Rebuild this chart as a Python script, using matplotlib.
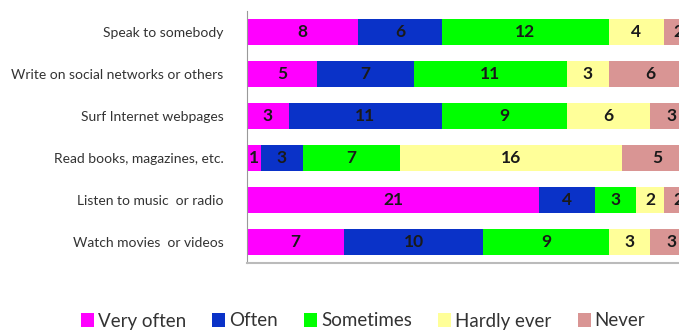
import matplotlib.pyplot as plt
import numpy as np

plt.rcParams['font.family'] = ['Lato', 'DejaVu Sans']

activities = ['Speak to somebody', 'Write on social networks or others',
              'Surf Internet webpages', 'Read books, magazines, etc.',
              'Listen to music  or radio', 'Watch movies  or videos']
levels = ['Very often', 'Often', 'Sometimes', 'Hardly ever', 'Never']
very_often = [8, 5, 3, 1, 21, 7]
often = [6, 7, 11, 3, 4, 10]
sometimes = [12, 11, 9, 7, 3, 9]
hardly_ever = [4, 3, 6, 16, 2, 3]
never = [2, 6, 3, 5, 2, 3]
colors = ['#FF00FF', '#0A32C8', '#00FF00', '#FFFF99', '#D99594']

series = [very_often, often, sometimes, hardly_ever, never]

fig = plt.figure(figsize=(6.79, 3.31), dpi=100)
# axes run past the right edge, the last segments get clipped
ax = fig.add_axes([247/679, (331-263)/331, 445/679, 252/331])

y = np.arange(len(activities))
left = np.zeros(len(activities))
for name, vals, c in zip(levels, series, colors):
    vals = np.array(vals)
    ax.barh(y, vals, left=left, height=0.62, color=c, label=name)
    for yi, l, v in zip(y, left, vals):
        ax.text(l + v/2, yi, str(v), ha='center', va='center',
                fontsize=12.5, fontweight='bold', color='#1a1a1a')
    left += vals

ax.set_xlim(0, 32)
ax.set_ylim(len(activities) - 0.5, -0.5)
ax.set_yticks(y)
ax.set_yticklabels(activities, fontsize=10, color='#333333')
ax.tick_params(axis='y', length=0, pad=17)
ax.set_xticks([])
for s in ['top', 'right']:
    ax.spines[s].set_visible(False)
ax.spines['left'].set_color('#999999')
ax.spines['bottom'].set_color('#bbbbbb')
ax.spines['bottom'].set_linewidth(1.5)

fig.legend(loc='center', bbox_to_anchor=(363/679, 1 - 321/331), ncol=5,
           frameon=False, fontsize=13.5, handlelength=0.7, handleheight=0.7,
           handletextpad=0.2, columnspacing=1.4, labelcolor='#333333')

fig.savefig('out.png', dpi=100)
